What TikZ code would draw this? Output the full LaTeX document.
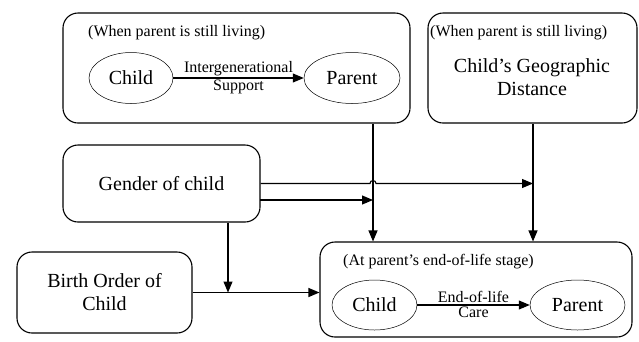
\documentclass[tikz,border=0pt]{standalone}
\usepackage{fontspec}
\setmainfont{Liberation Serif}
\usetikzlibrary{arrows.meta}
\usetikzlibrary{shapes.geometric}

\tikzset{
  box/.style={draw, line width=1.1pt, rounded corners=15pt, inner sep=0pt},
  big/.style={font=\fontsize{20}{23}\selectfont},
  oval/.style={draw, ellipse, line width=0.5pt, inner sep=0pt, font=\fontsize{20}{23}\selectfont},
  link/.style={line width=1.1pt, -{Triangle[length=11pt,width=9pt]}},
  note/.style={font=\fontsize{16}{18}\selectfont, anchor=west, inner sep=0pt},
  small/.style={font=\fontsize{16}{18}\selectfont, inner sep=1.5pt},
}

\begin{document}
\begin{tikzpicture}[x=1pt,y=-1pt]
      \useasboundingbox (0,0) rectangle (639,341);

      \node[box, minimum width=347pt, minimum height=110pt] (livebox) at (236.5,68) {};
      \node[note] (livenote) at (88,33) {(When parent is still living)};
      \node[oval, minimum width=84pt, minimum height=51pt] (child1) at (131,78) {Child};
      \node[oval, minimum width=96pt, minimum height=51pt] (parent1) at (352,78) {Parent};
      \draw[link] (child1) -- (parent1) node[midway, above, small] {Intergenerational} node[midway, below, small] {Support};

      \node[box, minimum width=209pt, minimum height=110pt] (distbox) at (532.5,68) {};
      \node[note] (distnote) at (430,33) {(When parent is still living)};
      \node[big, align=center] (distlabel) at (532,77) {Child's Geographic\\Distance};

      \node[box, big, minimum width=197pt, minimum height=77pt] (gender) at (161.5,183.5) {Gender of child};
      \node[box, big, align=center, minimum width=175pt, minimum height=81pt] (birth) at (104.5,292.5) {Birth Order of\\Child};

      \node[box, minimum width=312pt, minimum height=95pt] (endbox) at (476,289.5) {};
      \node[note] (endnote) at (343,262) {(At parent's end-of-life stage)};
      \node[oval, minimum width=85pt, minimum height=50pt] (child2) at (374.5,305) {Child};
      \node[oval, minimum width=95pt, minimum height=50pt] (parent2) at (577.5,305) {Parent};
      \draw[link] (child2) -- (parent2) node[midway, above, small] {End-of-life} node[midway, below, small] {Care};

      \coordinate (colA) at (373,0);
      \coordinate (colB) at (533,0);
      \coordinate (colC) at (228,0);
      \coordinate (hop) at (373,183.5);
      \coordinate (g2) at (260,200);

      \draw[link] (livebox.south -| colA) -- (endbox.north -| colA);
      \draw[link] (distbox.south -| colB) -- (endbox.north -| colB);
      \draw[link] (gender.east) -- ([xshift=-3pt]hop) arc[start angle=180, end angle=0, radius=3pt] -- (gender.east -| colB);
      \draw[link] (g2) -- (g2 -| colA);
      \draw[link] (gender.south -| colC) -- (birth.east -| colC);
      \draw[link] (birth.east) -- (birth.east -| endbox.west);
    \end{tikzpicture}
\end{document}
